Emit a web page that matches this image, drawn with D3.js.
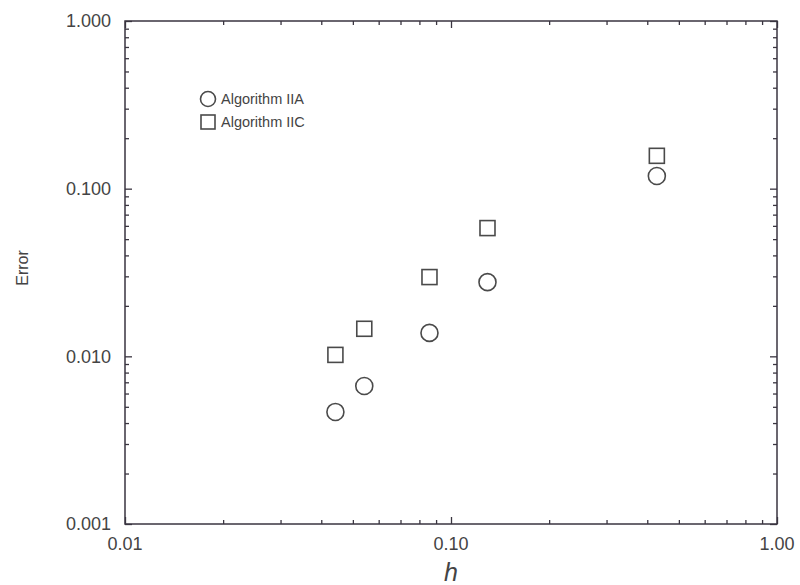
<!DOCTYPE html>
<html>
<head>
<meta charset="utf-8">
<script src="https://cdn.jsdelivr.net/npm/d3@7"></script>
<style>
  body { margin: 0; background: #fff; }
  svg { display: block; font-family: "Liberation Sans", Arial, sans-serif; }
</style>
</head>
<body>
<svg width="800" height="585"></svg>
<script>
// step sizes h and the errors for each algorithm
let hValues = [0.0442, 0.0542, 0.0859, 0.1294, 0.428];
let errorIIA = [0.00466, 0.00665, 0.0138, 0.0277, 0.119];
let errorIIC = [0.0102, 0.0146, 0.0297, 0.0582, 0.157];

let xTicks = [0.01, 0.1, 1];
let xTickLabels = ['0.01', '0.10', '1.00'];
let yTicks = [0.001, 0.01, 0.1, 1];
let yTickLabels = ['0.001', '0.010', '0.100', '1.000'];

let seriesNames = ['Algorithm IIA', 'Algorithm IIC'];

let svgWidth = 800;
let svgHeight = 585;

let marginLeft = 125;
let marginRight = 23;
let marginTop = 21;
let marginBottom = 61;

let canvasWidth = svgWidth - marginLeft - marginRight;
let canvasHeight = svgHeight - marginTop - marginBottom;

let ink = '#3a3540';
let textColor = '#444';

let svg = d3.select('svg');

let xScale = d3.scaleLog().domain([0.01, 1]).range([0, canvasWidth]);
let yScale = d3.scaleLog().domain([0.001, 1]).range([canvasHeight, 0]);

let canvas = svg.append('g').attr('transform', `translate(${marginLeft},${marginTop})`);

// minor ticks 2..9 in every decade
function minorTicks(domain) {
  let out = [];
  for (let p = Math.log10(domain[0]); p < Math.log10(domain[1]); p++) {
    for (let m = 2; m <= 9; m++) out.push(m * Math.pow(10, p));
  }
  return out;
}
let xMinor = minorTicks(xScale.domain());
let yMinor = minorTicks(yScale.domain());

function styleAxis(g) {
  g.select('.domain').remove();
  g.selectAll('line').attr('stroke', ink).attr('stroke-width', 1.3);
  g.selectAll('text').remove();
}

// ticks point inward on all four sides
canvas.append('g').attr('transform', `translate(0,${canvasHeight})`)
  .call(d3.axisTop(xScale).tickValues(xTicks).tickSize(7)).call(styleAxis);
canvas.append('g').attr('transform', `translate(0,${canvasHeight})`)
  .call(d3.axisTop(xScale).tickValues(xMinor).tickSize(4)).call(styleAxis);
canvas.append('g')
  .call(d3.axisBottom(xScale).tickValues(xTicks).tickSize(7)).call(styleAxis);
canvas.append('g')
  .call(d3.axisBottom(xScale).tickValues(xMinor).tickSize(4)).call(styleAxis);
canvas.append('g')
  .call(d3.axisRight(yScale).tickValues(yTicks).tickSize(7)).call(styleAxis);
canvas.append('g')
  .call(d3.axisRight(yScale).tickValues(yMinor).tickSize(4)).call(styleAxis);
canvas.append('g').attr('transform', `translate(${canvasWidth},0)`)
  .call(d3.axisLeft(yScale).tickValues(yTicks).tickSize(7)).call(styleAxis);
canvas.append('g').attr('transform', `translate(${canvasWidth},0)`)
  .call(d3.axisLeft(yScale).tickValues(yMinor).tickSize(4)).call(styleAxis);

// frame
canvas.append('rect')
  .attr('width', canvasWidth)
  .attr('height', canvasHeight)
  .attr('fill', 'none')
  .attr('stroke', ink)
  .attr('stroke-width', 1.5);

// tick labels
canvas.selectAll('text.xlabel')
  .data(xTicks)
  .enter()
  .append('text')
  .attr('class', 'xlabel')
  .attr('x', (d) => xScale(d))
  .attr('y', canvasHeight + 26)
  .attr('text-anchor', 'middle')
  .attr('font-size', 18)
  .attr('fill', textColor)
  .text((d, i) => xTickLabels[i]);

canvas.selectAll('text.ylabel')
  .data(yTicks)
  .enter()
  .append('text')
  .attr('class', 'ylabel')
  .attr('x', -14)
  .attr('y', (d) => yScale(d))
  .attr('dy', '0.35em')
  .attr('text-anchor', 'end')
  .attr('font-size', 18)
  .attr('fill', textColor)
  .text((d, i) => yTickLabels[i]);

// axis titles
svg.append('text')
  .attr('x', marginLeft + xScale(0.1))
  .attr('y', 581)
  .attr('text-anchor', 'middle')
  .attr('font-size', 25)
  .attr('font-style', 'italic')
  .attr('fill', textColor)
  .text('h');

svg.append('text')
  .attr('transform', `translate(28,268) rotate(-90)`)
  .attr('text-anchor', 'middle')
  .attr('font-size', 16)
  .attr('fill', textColor)
  .text('Error');

// markers
let markerStroke = '#4a4a4a';

canvas.selectAll('circle.iia')
  .data(hValues)
  .enter()
  .append('circle')
  .attr('class', 'iia')
  .attr('cx', (d) => xScale(d))
  .attr('cy', (d, i) => yScale(errorIIA[i]))
  .attr('r', 8.5)
  .attr('fill', 'none')
  .attr('stroke', markerStroke)
  .attr('stroke-width', 1.6);

let sq = 15;
canvas.selectAll('rect.iic')
  .data(hValues)
  .enter()
  .append('rect')
  .attr('class', 'iic')
  .attr('x', (d) => xScale(d) - sq / 2)
  .attr('y', (d, i) => yScale(errorIIC[i]) - sq / 2)
  .attr('width', sq)
  .attr('height', sq)
  .attr('fill', 'none')
  .attr('stroke', markerStroke)
  .attr('stroke-width', 1.6);

// legend
let legend = svg.append('g').attr('transform', 'translate(208,99)');
legend.append('circle')
  .attr('r', 7.5)
  .attr('fill', 'none')
  .attr('stroke', markerStroke)
  .attr('stroke-width', 1.6);
legend.append('rect')
  .attr('x', -7)
  .attr('y', 23 - 7)
  .attr('width', 14)
  .attr('height', 14)
  .attr('fill', 'none')
  .attr('stroke', markerStroke)
  .attr('stroke-width', 1.6);
legend.selectAll('text')
  .data(seriesNames)
  .enter()
  .append('text')
  .attr('x', 13)
  .attr('y', (d, i) => i * 23)
  .attr('dy', '0.35em')
  .attr('font-size', 14.5)
  .attr('fill', textColor)
  .text((d) => d);
</script>
</body>
</html>
